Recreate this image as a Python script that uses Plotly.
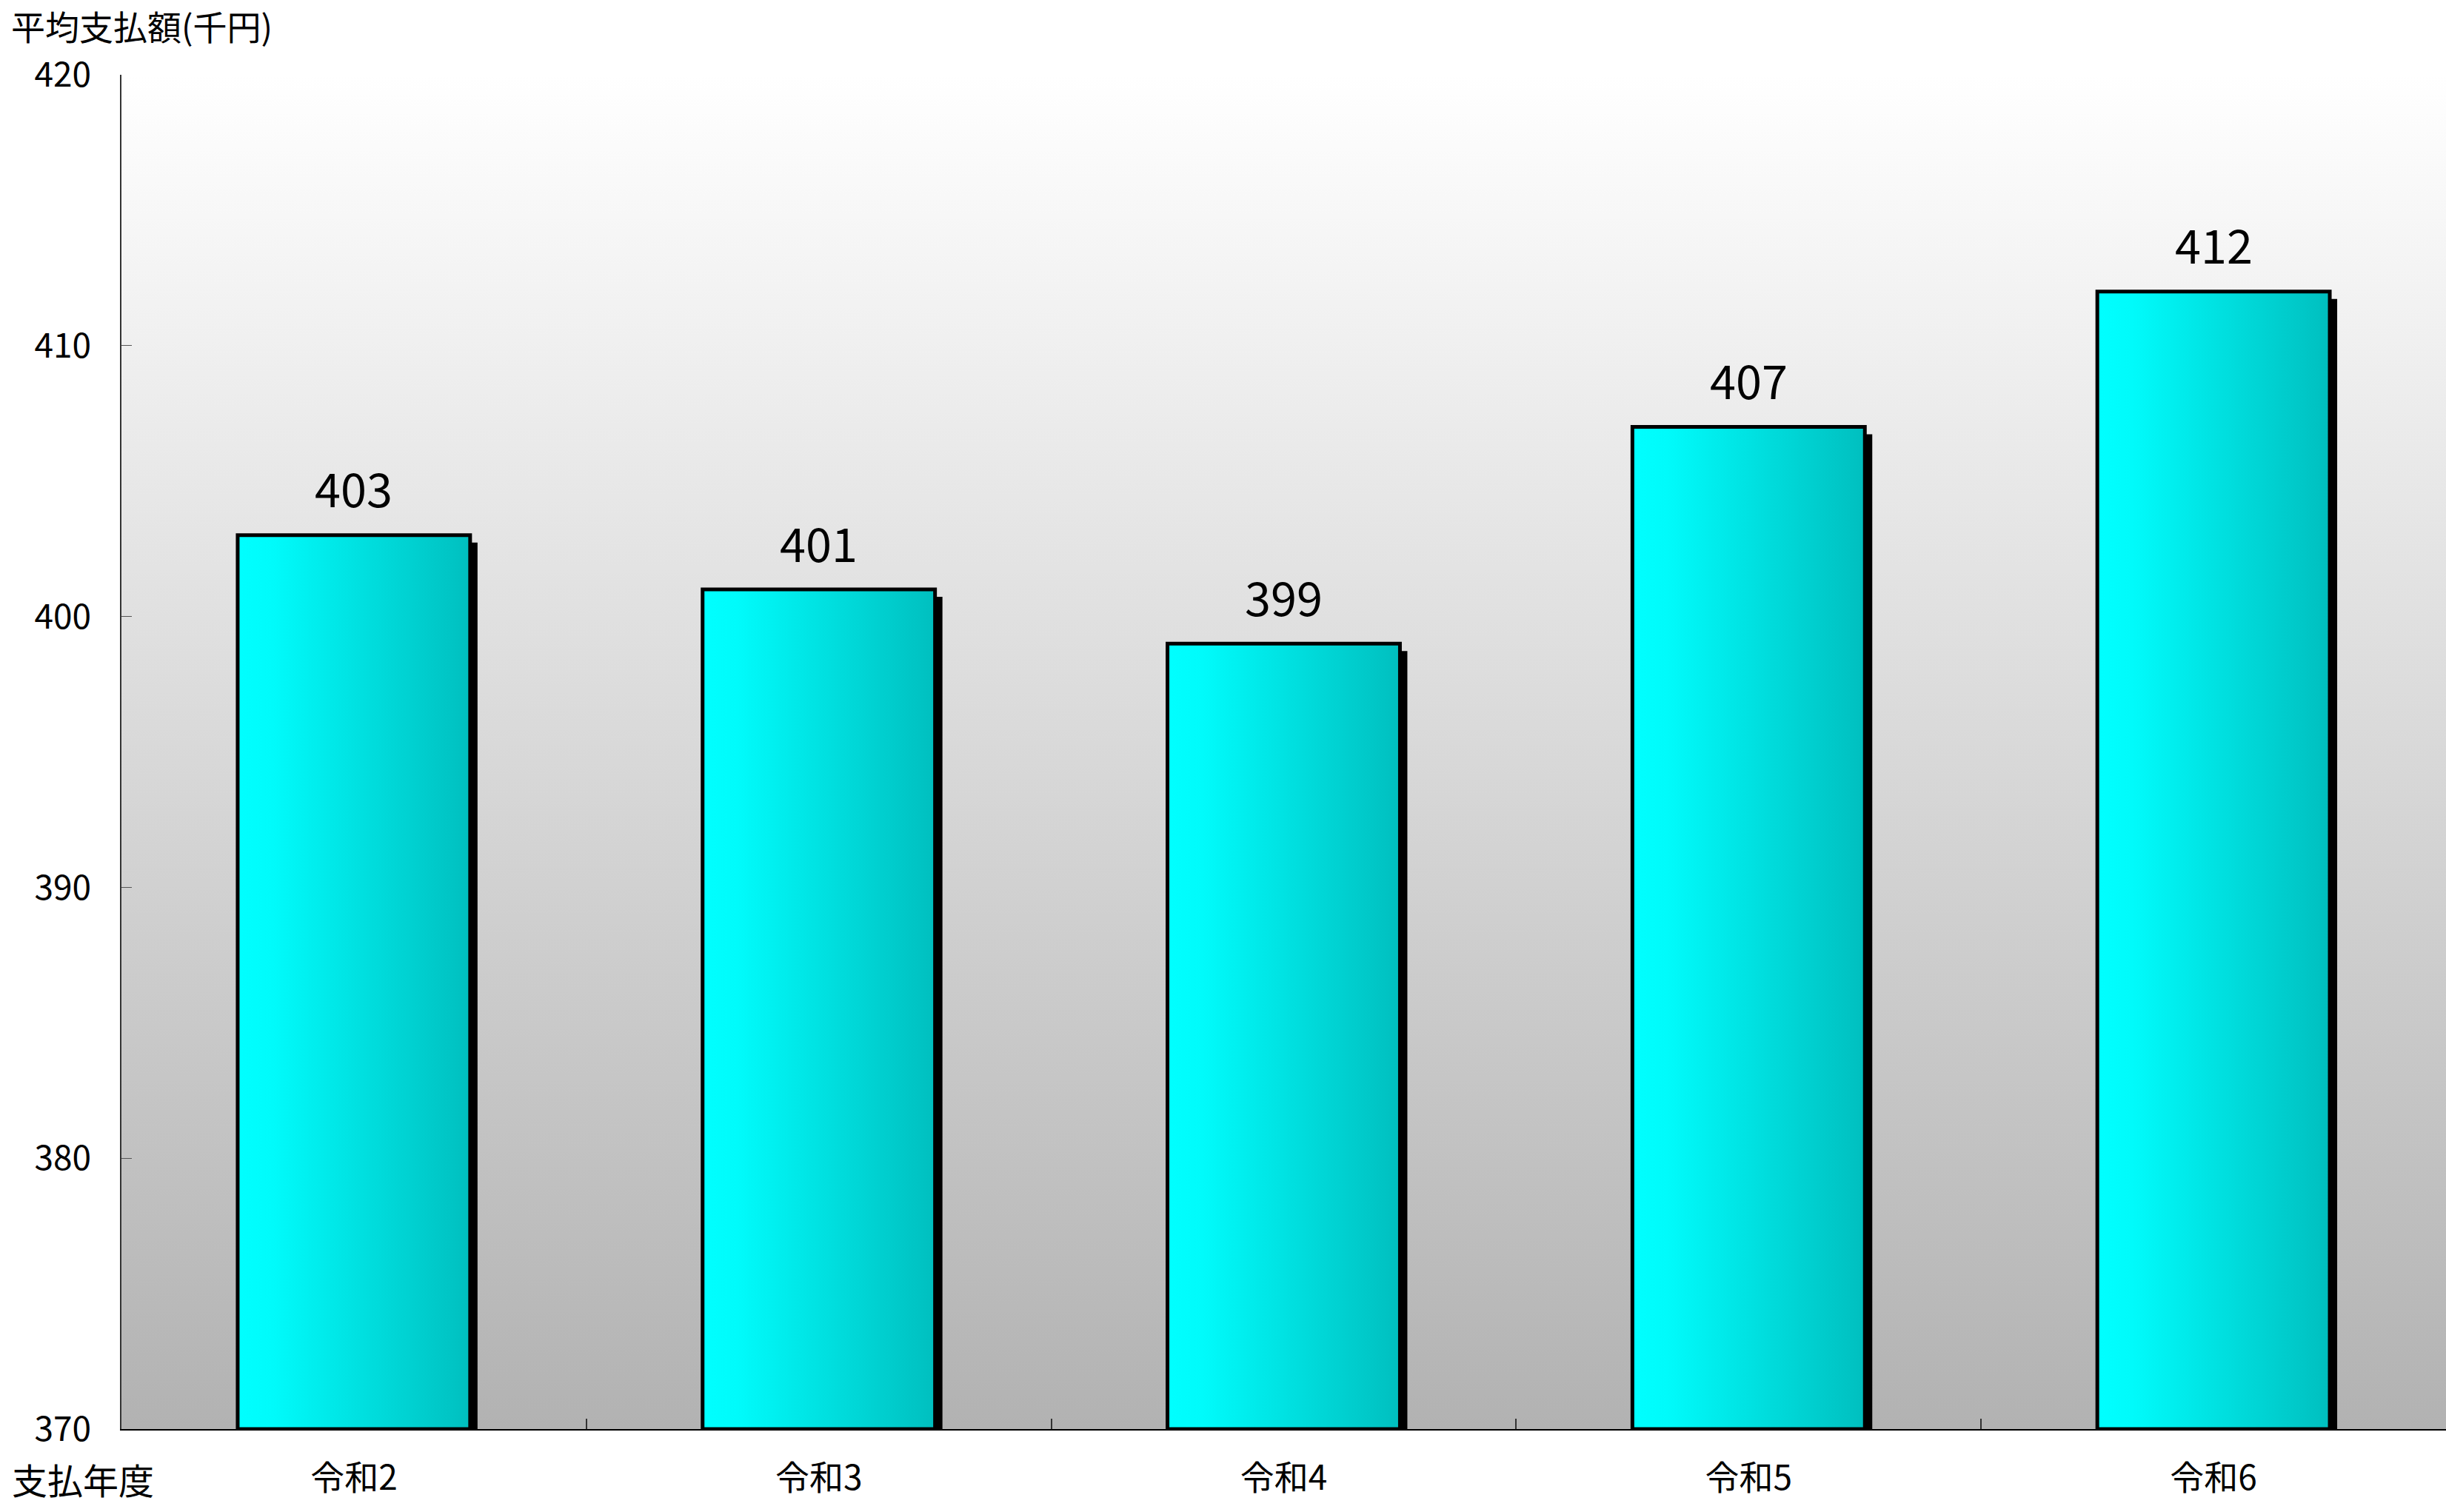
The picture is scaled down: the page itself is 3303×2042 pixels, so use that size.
import plotly.graph_objects as go

# ---- data ----
categories = ["令和2", "令和3", "令和4", "令和5", "令和6"]
values = [403, 401, 399, 407, 412]
y_ticks = [370, 380, 390, 400, 410, 420]
y_title = "平均支払額(千円)"
x_title = "支払年度"

# ---- layout constants ----
W, H = 3303, 2042
ML, MR, MT, MB = 164, 0, 101, 112
FONT = "Noto Sans CJK JP"
y_min, y_max = y_ticks[0], y_ticks[-1]
n = len(categories)
x_lo, x_hi = -0.5, n - 0.5
plot_w = W - ML - MR
plot_h = H - MT - MB
px_x = (x_hi - x_lo) / plot_w          # data units per pixel (x)
px_y = (y_max - y_min) / plot_h        # data units per pixel (y)
half = 0.25
shadow_dx = 10 * px_x
shadow_dy = 10 * px_y

xs = list(range(n))

fig = go.Figure()

# background gradient (plot area)
fig.add_trace(go.Scatter(
    x=[x_lo, x_hi, x_hi, x_lo, x_lo],
    y=[y_min, y_min, y_max, y_max, y_min],
    mode="lines", fill="toself", line=dict(width=0),
    fillgradient=dict(type="vertical",
                      colorscale=[[0, "#b2b2b2"], [1, "#ffffff"]]),
    hoverinfo="skip", showlegend=False,
))

for xi, v in zip(xs, values):
    # shadow
    x0, x1 = xi - half + shadow_dx, xi + half + shadow_dx
    y0, y1 = y_min - shadow_dy, v - shadow_dy
    fig.add_trace(go.Scatter(
        x=[x0, x1, x1, x0, x0], y=[y0, y0, y1, y1, y0],
        mode="lines", fill="toself", fillcolor="black",
        line=dict(width=0, color="black"),
        hoverinfo="skip", showlegend=False,
    ))
    # bar with horizontal gradient
    x0, x1 = xi - half, xi + half
    fig.add_trace(go.Scatter(
        x=[x0, x1, x1, x0, x0], y=[y_min, y_min, v, v, y_min],
        mode="lines", fill="toself",
        line=dict(width=5, color="black"),
        fillgradient=dict(type="horizontal",
                          colorscale=[[0, "#00ffff"], [0.15, "#00fbfb"], [1, "#00bfbf"]]),
        hoverinfo="skip", showlegend=False,
    ))

# value labels
for xi, v in zip(xs, values):
    fig.add_annotation(x=xi, y=v, text=str(v), showarrow=False,
                       xanchor="center", yanchor="middle", yshift=65,
                       font=dict(family=FONT, size=63, color="black"))

fig.add_annotation(xref="paper", yref="paper", x=0, y=1, text=y_title,
                   showarrow=False, xanchor="left", yanchor="middle",
                   xshift=-ML + 14, yshift=67, borderpad=0,
                   font=dict(family=FONT, size=46, color="black"))
fig.add_annotation(xref="paper", yref="paper", x=0, y=0, text=x_title,
                   showarrow=False, xanchor="left", yanchor="middle",
                   xshift=-ML + 14, yshift=-67,
                   font=dict(family=FONT, size=48, color="black"))

fig.update_layout(
    width=W, height=H,
    margin=dict(l=ML, r=MR, t=MT, b=MB, pad=0),
    paper_bgcolor="white", plot_bgcolor="white",
    showlegend=False,
    font=dict(family=FONT, color="black"),
    xaxis=dict(
        range=[x_lo, x_hi], tickmode="array", tickvals=xs, ticktext=categories,
        ticks="", showgrid=False, zeroline=False,
        showline=True, linecolor="black", linewidth=2,
        tickfont=dict(family=FONT, size=46, color="black"),
        ticklabelstandoff=25,
        minor=dict(tickmode="array", tickvals=[i + 0.5 for i in xs[:-1]],
                   ticks="inside", ticklen=14, tickwidth=2, tickcolor="#333333",
                   showgrid=False),
        fixedrange=True,
    ),
    yaxis=dict(
        range=[y_min, y_max], tickmode="array", tickvals=y_ticks,
        ticktext=[str(t) for t in y_ticks],
        ticks="inside", ticklen=14, tickwidth=1, tickcolor="#555555",
        showgrid=False, zeroline=False,
        showline=True, linecolor="#333333", linewidth=1.5,
        tickfont=dict(family=FONT, size=46, color="black"),
        ticklabelstandoff=30,
        fixedrange=True,
    ),
)

fig.write_html(
    "out.html",
    config={"displayModeBar": False},
    post_script="document.body.style.margin='0';document.body.style.overflow='hidden';",
)
